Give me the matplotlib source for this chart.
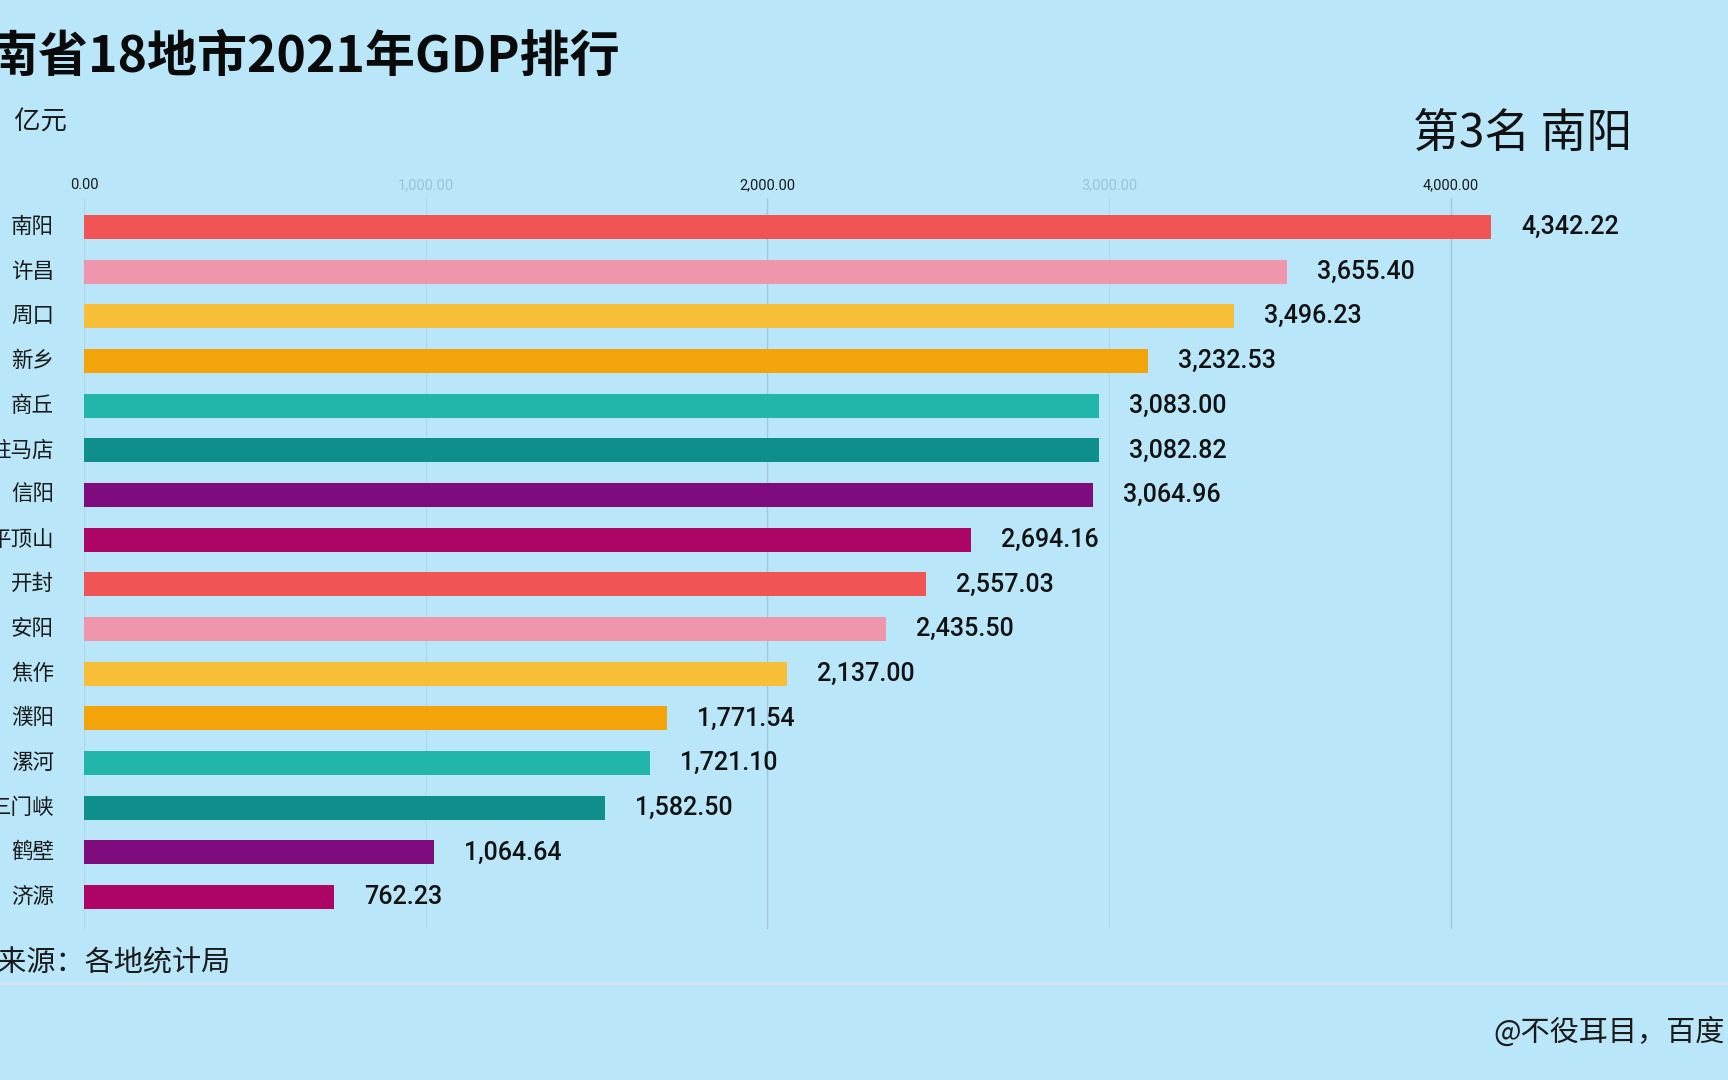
import matplotlib
matplotlib.use("Agg")
import matplotlib.pyplot as plt
from matplotlib.ticker import FixedLocator

plt.rcParams['font.family'] = ['Noto Sans CJK SC', 'DejaVu Sans']

# ---- data ----
cities = ["南阳", "许昌", "周口", "新乡", "商丘", "驻马店", "信阳", "平顶山",
          "开封", "安阳", "焦作", "濮阳", "漯河", "三门峡", "鹤壁", "济源"]
# bar lengths as drawn in this animation frame
bar_lengths = [4118, 3521, 3365, 3114, 2970, 2970, 2953, 2596,
               2464, 2347, 2057, 1706, 1657, 1525, 1024, 731]
# value labels shown next to the bars
label_values = [4342.22, 3655.40, 3496.23, 3232.53, 3083.00, 3082.82, 3064.96, 2694.16,
                2557.03, 2435.50, 2137.00, 1771.54, 1721.10, 1582.50, 1064.64, 762.23]
palette = ["#f05454", "#ef96ad", "#f7be38", "#f4a40b", "#22b5aa", "#0e8f8b", "#7e0c7e", "#ad0566"]
tick_values = [0, 1000, 2000, 3000, 4000]
tick_colors = ["#1a1a1a", "#9cc2d6", "#1a1a1a", "#9cc2d6", "#1a1a1a"]

title = "河南省18地市2021年GDP排行"
unit = "单位：亿元"
rank_text = "第3名 南阳"
source = "数据来源：各地统计局"
credit = "@不役耳目，百度"

BG = "#b9e7f9"
W, H = 1728, 1080
fig = plt.figure(figsize=(W / 100, H / 100), dpi=100, facecolor=BG)

# axes geometry in pixels
x0_px = 84
px_per_unit = 341.7 / 1000
ax_top, ax_bot = 198, 929
ax = fig.add_axes([x0_px / W, 1 - ax_bot / H, (W - x0_px) / W, (ax_bot - ax_top) / H])
ax.set_facecolor(BG)
ax.set_xlim(0, (W - x0_px) / px_per_unit)
row_px = 44.67
first_center = 227
ax.set_ylim((ax_bot - first_center) / row_px, -(first_center - ax_top) / row_px)

for s in ax.spines.values():
    s.set_visible(False)

colors = [palette[i % len(palette)] for i in range(len(cities))]
ypos = list(range(len(cities)))
ax.barh(ypos, bar_lengths, height=0.54, color=colors, zorder=3)

# gridlines
grid_alpha = [0.35, 0.35, 0.8, 0.35, 0.8]
for v, a in zip(tick_values, grid_alpha):
    ax.axvline(v, color="#9fbfd3", lw=1.0, alpha=a, zorder=1)

ax.xaxis.tick_top()
ax.xaxis.set_major_locator(FixedLocator(tick_values))
ax.set_xticklabels([f"{v:,.2f}" for v in tick_values], fontfamily="Roboto", fontsize=10.5)
for lbl, c in zip(ax.get_xticklabels(), tick_colors):
    lbl.set_color(c)
ax.tick_params(axis="x", length=0, pad=4)
ax.set_yticks([])

# city labels (right-aligned, left of axis)
for y, name in zip(ypos, cities):
    ax.text(-30 / px_per_unit, y, name, ha="right", va="center", fontsize=15.5,
            color="#1a1a1a", clip_on=False)

# value labels
for y, L, v in zip(ypos, bar_lengths, label_values):
    ax.text(L + 30 / px_per_unit, y, f"{v:,.2f}", ha="left", va="center",
            fontsize=18, fontfamily=["Roboto", "DejaVu Sans"], fontweight="medium",
            color="#111111", clip_on=False)

# texts in figure pixel coords
def fx(px):
    return px / W

def fy(py):
    return 1 - py / H

fig.text(fx(-62), fy(57), title, ha="left", va="center", fontsize=36,
         fontweight="black", color="#0a0a0a")
fig.text(fx(-64), fy(121), unit, ha="left", va="center", fontsize=19, color="#1a1a1a")
fig.text(fx(1523), fy(134), rank_text, ha="center", va="center", fontsize=33, color="#111111")
fig.text(fx(-60), fy(964), source, ha="left", va="center", fontsize=21, color="#1a1a1a")
fig.text(fx(1493), fy(1033), credit, ha="left", va="center", fontsize=21, color="#1a1a1a")

# separator line under the source
fig.add_artist(plt.Line2D([0, 1], [fy(983), fy(983)], color="#d5e3ea", lw=2.5,
                          transform=fig.transFigure))

fig.savefig("out.png", dpi=100, facecolor=BG)
